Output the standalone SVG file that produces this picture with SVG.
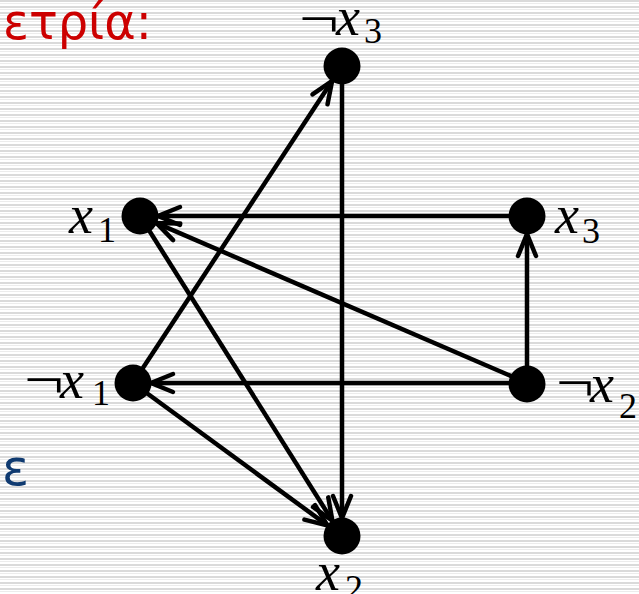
<svg xmlns="http://www.w3.org/2000/svg" width="639" height="594" viewBox="0 0 639 594">
<defs>
<pattern id="stripes" x="0" y="0" width="12" height="6" patternUnits="userSpaceOnUse">
<rect width="12" height="6" fill="#ffffff"/>
<rect y="0" width="12" height="2" fill="#dadada"/>
<rect y="3" width="12" height="1" fill="#ececec"/>
</pattern>
<marker id="arr" markerUnits="userSpaceOnUse" markerWidth="40" markerHeight="40" refX="0" refY="0" viewBox="-30 -20 40 40" orient="auto" overflow="visible">
<path d="M -22 -9 L 0 0 L -22 9" fill="none" stroke="#000" stroke-width="4.5" stroke-linecap="round" stroke-linejoin="miter"/>
</marker>
<style>
.edge{stroke:#000;stroke-width:4.5;fill:none;marker-end:url(#arr);}
.node{fill:#000;}
</style>
</defs>
<rect width="639" height="594" fill="url(#stripes)"/>
<text x="3" y="39" fill="#cc0000" font-family="DejaVu Sans, sans-serif" font-size="50" textLength="149" lengthAdjust="spacingAndGlyphs">ετρία:</text>
<text x="29" y="485" fill="#0f3a70" font-family="DejaVu Sans, sans-serif" font-size="50" text-anchor="end">τε</text>
<g id="connectors">
<line class="edge" x1="527" y1="216" x2="158" y2="216"/>
<line class="edge" x1="527" y1="383" x2="156.5" y2="223.1"/>
<line class="edge" x1="527" y1="383" x2="527" y2="234"/>
<line class="edge" x1="527" y1="383" x2="151" y2="383"/>
<line class="edge" x1="133" y1="383" x2="332.1" y2="81"/>
<line class="edge" x1="342" y1="66" x2="342" y2="518"/>
<line class="edge" x1="140" y1="216" x2="332.4" y2="520.8"/>
<line class="edge" x1="133" y1="383" x2="327.5" y2="525.4"/>
</g>
<g font-family="'Liberation Serif', 'DejaVu Serif', serif" fill="#000">
<g id="n_notx3">
<circle class="node" cx="342" cy="66" r="18.5"/>
<text x="299" y="37" font-size="54" textLength="40" lengthAdjust="spacingAndGlyphs">¬</text>
<text x="336" y="35" font-size="54" font-style="italic">x</text>
<text x="364" y="43" font-size="36">3</text>
</g>
<g id="n_x1">
<circle class="node" cx="140" cy="216" r="18.5"/>
<text x="69" y="233" font-size="54" font-style="italic">x</text>
<text x="98" y="242" font-size="36">1</text>
</g>
<g id="n_x3">
<circle class="node" cx="527" cy="216" r="18.5"/>
<text x="555" y="233" font-size="54" font-style="italic">x</text>
<text x="582" y="243" font-size="36">3</text>
</g>
<g id="n_notx1">
<circle class="node" cx="133" cy="383" r="18.5"/>
<text x="24" y="398" font-size="54" textLength="40" lengthAdjust="spacingAndGlyphs">¬</text>
<text x="60" y="398" font-size="54" font-style="italic">x</text>
<text x="92" y="405" font-size="36">1</text>
</g>
<g id="n_notx2">
<circle class="node" cx="527" cy="384" r="18.5"/>
<text x="556" y="401" font-size="54" textLength="38" lengthAdjust="spacingAndGlyphs">¬</text>
<text x="590" y="402" font-size="54" font-style="italic">x</text>
<text x="619" y="418" font-size="36">2</text>
</g>
<g id="n_x2">
<circle class="node" cx="342" cy="536" r="18.5"/>
<text x="316" y="590" font-size="54" font-style="italic">x</text>
<text x="345" y="600" font-size="36">2</text>
</g>
</g>
</svg>
